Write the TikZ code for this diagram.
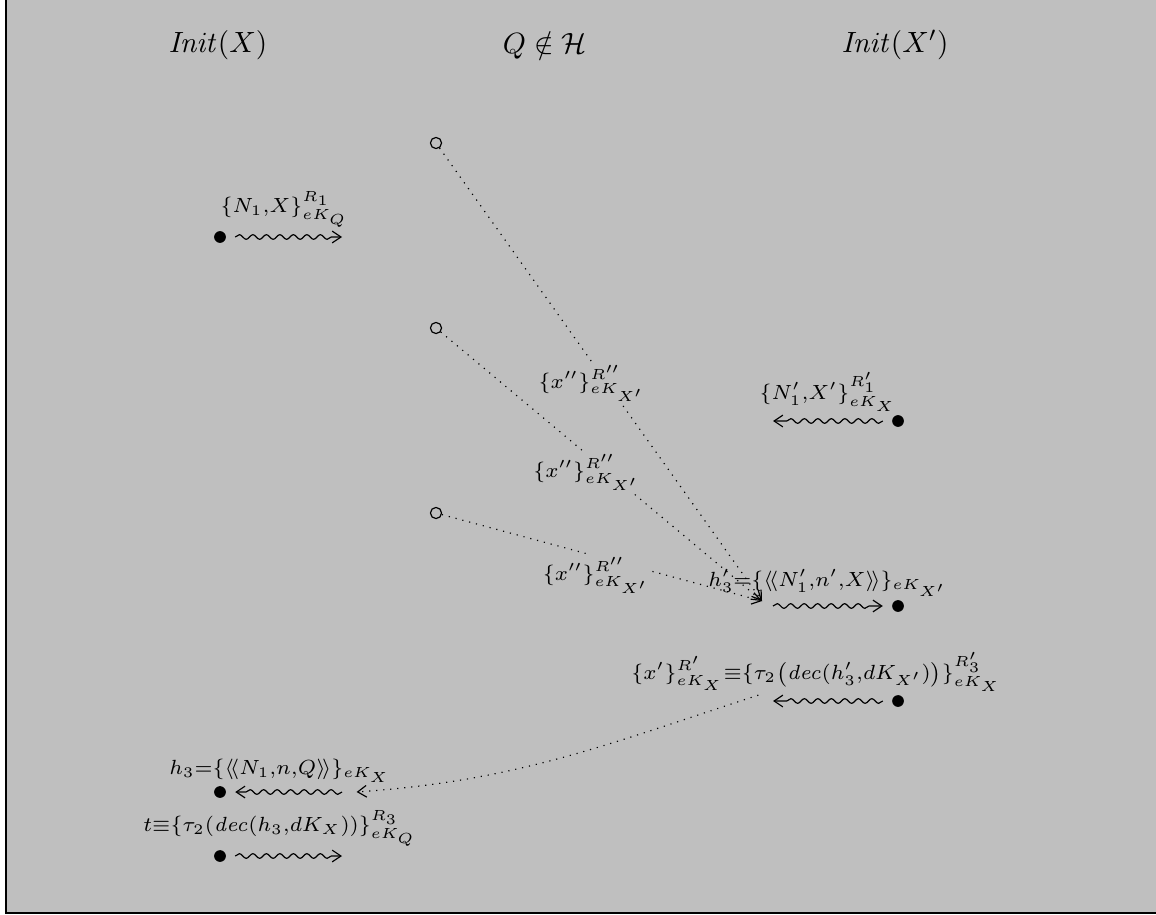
\documentclass[tikz,border=0pt]{standalone}
\usepackage{amsmath,amssymb}
\usetikzlibrary{arrows.meta,decorations.pathmorphing}
\definecolor{bggray}{rgb}{0.75,0.75,0.75}

\begin{document}
\begin{tikzpicture}[x=0.012cm,y=-0.012cm,
  agent/.style={font=\normalsize},
  dot/.style={circle,fill=black,inner sep=0pt,minimum size=4pt},
  hole/.style={circle,draw=black,inner sep=0pt,minimum size=3.8pt},
  msg/.style={font=\scriptsize,inner sep=1pt},
  wave/.style={decorate,decoration={snake,amplitude=.8pt,segment length=4.6pt,post length=3pt},-{Straight Barb[length=3pt,width=4pt]}},
  link/.style={dotted,-{Straight Barb[length=3pt,width=4pt]}}]
  \useasboundingbox (0,0) rectangle (1156,915);
  % frame
  \fill[bggray] (6,0) rectangle (1156,913);
  \draw[line width=.7pt] (6,0) -- (6,913) -- (1156,913);
  % agents
  \node[agent] (initx) at (218,45) {$\mathit{Init}(X)$};
  \node[agent] (peer) at (545,45) {$Q\notin\mathcal{H}$};
  \node[agent] (initxp) at (895,45) {$\mathit{Init}(X')$};
  % events
  \node[dot] (a1) at (220,237) {};
  \node[dot] (b1) at (898,421) {};
  \node[dot] (b2) at (898,606) {};
  \node[dot] (b3) at (898,701) {};
  \node[dot] (a2) at (220,792) {};
  \node[dot] (a3) at (220,856) {};
  \node[hole] (q1) at (436,143) {};
  \node[hole] (q2) at (436,328) {};
  \node[hole] (q3) at (436,513) {};
  % arrow ends
  \coordinate (a1e) at (342,237);
  \coordinate (b1e) at (773,421);
  \coordinate (b2s) at (773,606);
  \coordinate (hub) at (762,601);
  \coordinate (b3e) at (773,701);
  \coordinate (a2s) at (342,792);
  \coordinate (a3e) at (342,856);
  % messages
  \draw[wave] ([xshift=3pt]a1.east) -- (a1e)
    node[msg,midway,above=2pt,xshift=-1.5pt] (m1) {$\{N_1{,}X\}^{R_1}_{eK_Q}$};
  \draw[wave] ([xshift=-3pt]b1.west) -- (b1e)
    node[msg,midway,above=2pt] (m2) {$\{N'_1{,}X'\}^{R'_1}_{eK_X}$};
  \draw[wave] (b2s) -- ([xshift=-3pt]b2.west)
    node[msg,midway,above=2pt] (m3) {$h'_3{=}\{\langle\!\langle N'_1{,}n'{,}X\rangle\!\rangle\}_{eK_{X'}}$};
  \draw[wave] ([xshift=-3pt]b3.west) -- (b3e)
    node[msg,midway,above=2pt,xshift=-4pt] (m4) {$\{x'\}^{R'}_{eK_X}{\equiv}\{\tau_2\bigl(\mathit{dec}(h'_3{,}dK_{X'})\bigr)\}^{R'_3}_{eK_X}$};
  \draw[wave] (a2s) -- ([xshift=3pt]a2.east)
    node[msg,midway,above=2pt,xshift=-3pt] (m5) {$h_3{=}\{\langle\!\langle N_1{,}n{,}Q\rangle\!\rangle\}_{eK_X}$};
  \draw[wave] ([xshift=3pt]a3.east) -- (a3e)
    node[msg,midway,above=2pt,xshift=-3pt] (m6) {$t{\equiv}\{\tau_2(\mathit{dec}(h_3{,}dK_X))\}^{R_3}_{eK_Q}$};
  % intruder links
  \draw[link] (q1) -- (hub) node[msg,midway,fill=bggray,xshift=-3pt,yshift=-3pt] (l1) {$\{x''\}^{R''}_{eK_{X'}}$};
  \draw[link] (q2) -- (hub) node[msg,midway,fill=bggray,xshift=-5pt,yshift=-2pt] (l2) {$\{x''\}^{R''}_{eK_{X'}}$};
  \draw[link] (q3) -- (hub) node[msg,midway,fill=bggray,xshift=-2pt,yshift=-6pt] (l3) {$\{x''\}^{R''}_{eK_{X'}}$};
  \draw[link] ([xshift=-5pt,yshift=2pt]b3e) to[out=198,in=4] ([xshift=5pt]a2s);
\end{tikzpicture}
\end{document}
